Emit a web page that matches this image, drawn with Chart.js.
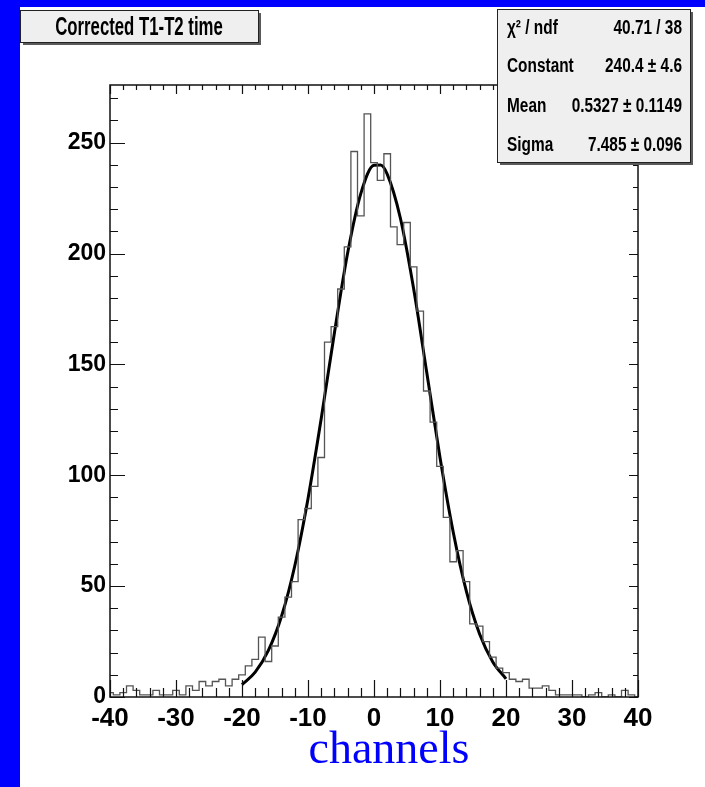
<!DOCTYPE html>
<html>
<head>
<meta charset="utf-8">
<title>Corrected T1-T2 time</title>
<script src="https://cdn.jsdelivr.net/npm/chart.js@4.4.1/dist/chart.umd.min.js"></script>
<style>
  html, body { margin: 0; padding: 0; background: #ffffff; }
  canvas { display: block; }
</style>
</head>
<body>
<canvas id="hist" width="705" height="787"></canvas>
<script>
// bin centres (1 channel wide) and entries
const binCenters = [
  -40, -39, -38, -37, -36, -35, -34, -33, -32, -31,
  -30, -29, -28, -27, -26, -25, -24, -23, -22, -21,
  -20, -19, -18, -17, -16, -15, -14, -13, -12, -11,
  -10, -9, -8, -7, -6, -5, -4, -3, -2, -1,
  0, 1, 2, 3, 4, 5, 6, 7, 8, 9,
  10, 11, 12, 13, 14, 15, 16, 17, 18, 19,
  20, 21, 22, 23, 24, 25, 26, 27, 28, 29,
  30, 31, 32, 33, 34, 35, 36, 37, 38, 39,
  40
];
const counts = [
  2, 1, 2, 5, 3, 1, 1, 3, 1, 1,
  3, 1, 5, 3, 7, 5, 7, 8, 5, 8,
  10, 14, 17, 27, 16, 23, 36, 45, 52, 80,
  85, 95, 108, 160, 167, 184, 203, 246, 217, 263,
  241, 233, 245, 212, 204, 214, 194, 174, 138, 124,
  104, 81, 61, 66, 52, 33, 32, 25, 18, 13,
  11, 8, 7, 8, 4, 4, 5, 3, 1, 1,
  1, 1, 0, 1, 2, 0, 1, 0, 3, 1,
  0
];

// gaussian fit curve
const fitX = [-20, -18, -16, -14, -12, -10, -8, -6, -4, -2, 0, 1, 2, 4, 6, 8, 10, 12, 14, 16, 18, 20];
const fitY = [5.6, 11.2, 21.0, 36.5, 59.2, 89.4, 125.5, 164.2, 200.1, 227.0, 239.8, 239.9, 235.8, 215.9, 184.2, 146.2, 108.0, 74.4, 47.6, 28.4, 15.8, 8.2];

const xTicks = [-40, -30, -20, -10, 0, 10, 20, 30, 40];
const yTicks = [0, 50, 100, 150, 200, 250];

const titleText = 'Corrected T1-T2 time';
const xTitle = 'channels';
const statLabels = ['\u03c7\u00b2 / ndf', 'Constant', 'Mean', 'Sigma'];
const statValues = ['40.71 / 38', '240.4 \u00b1 4.6', '0.5327 \u00b1 0.1149', '7.485 \u00b1 0.096'];

const FONT = 'Liberation Sans';

// histogram outline: each bin value held from its left edge to the next one
const histPoints = binCenters.map((c, i) => ({ x: c - 0.5, y: counts[i] }));
histPoints.push({ x: binCenters[binCenters.length - 1] + 0.5, y: counts[counts.length - 1] });
const fitPoints = fitX.map((v, i) => ({ x: v, y: fitY[i] }));

function squeezedText(ctx, text, x, y, sx, align) {
    ctx.save();
    ctx.translate(x, y);
    ctx.scale(sx, 1);
    ctx.textAlign = align;
    ctx.fillText(text, 0, 0);
    ctx.restore();
}

function paveBox(ctx, x, y, w, h) {
    ctx.fillStyle = '#5a5a5a';
    ctx.fillRect(x + 3, y + 3, w, h);
    ctx.fillStyle = '#efefef';
    ctx.fillRect(x, y, w, h);
    ctx.strokeStyle = '#222';
    ctx.lineWidth = 1;
    ctx.strokeRect(x + 0.5, y + 0.5, w, h);
}

const rootDecor = {
    id: 'rootDecor',
    beforeDraw(chart) {
        const ctx = chart.ctx;
        ctx.save();
        ctx.fillStyle = '#0000ff';
        ctx.fillRect(0, 0, chart.width, chart.height);
        ctx.fillStyle = '#ffffff';
        ctx.fillRect(20, 7, chart.width - 20, chart.height - 7);
        ctx.restore();
    },
    afterDraw(chart) {
        const { ctx, chartArea: a, scales: { x, y } } = chart;
        ctx.save();

        // frame and inward ticks on all four sides
        ctx.strokeStyle = '#111';
        ctx.lineWidth = 1.5;
        ctx.strokeRect(a.left, a.top, a.right - a.left, a.bottom - a.top);
        ctx.lineWidth = 1.2;
        ctx.beginPath();
        for (let v = -40; v <= 40; v += 2) {
            const px = Math.round(x.getPixelForValue(v)) + 0.5;
            const major = v % 10 === 0;
            ctx.moveTo(px, a.bottom);
            ctx.lineTo(px, a.bottom - (major ? 17 : 9));
            ctx.moveTo(px, a.top);
            ctx.lineTo(px, a.top + (major ? 9 : 5));
        }
        for (let v = 0; v <= 270; v += 10) {
            const py = Math.round(y.getPixelForValue(v)) + 0.5;
            const major = v % 50 === 0;
            ctx.moveTo(a.left, py);
            ctx.lineTo(a.left + (major ? 15 : 8), py);
            ctx.moveTo(a.right, py);
            ctx.lineTo(a.right - (major ? 9 : 5), py);
        }
        ctx.stroke();

        // title pave
        paveBox(ctx, 20, 10, 238, 32);
        ctx.fillStyle = '#000';
        ctx.font = `bold 25px "${FONT}"`;
        ctx.textBaseline = 'middle';
        squeezedText(ctx, titleText, 139, 28, 0.67, 'center');

        // fit statistics box
        paveBox(ctx, 497, 9, 193, 153);
        ctx.fillStyle = '#000';
        ctx.font = `bold 20px "${FONT}"`;
        const rowY = [28, 66, 106, 145];
        statLabels.forEach((t, i) => squeezedText(ctx, t, 507, rowY[i], 0.77, 'left'));
        statValues.forEach((t, i) => squeezedText(ctx, t, 682, rowY[i], 0.77, 'right'));

        // axis title
        ctx.fillStyle = '#0000ff';
        ctx.font = '46px "Liberation Serif"';
        ctx.textAlign = 'center';
        ctx.textBaseline = 'alphabetic';
        ctx.fillText(xTitle, 389, 763);

        ctx.restore();
    }
};

new Chart(document.getElementById('hist'), {
    type: 'line',
    data: {
        datasets: [{
            label: 'histogram',
            data: histPoints,
            stepped: true,
            borderColor: '#555555',
            borderWidth: 1.3,
            pointRadius: 0,
            fill: false
        }, {
            label: 'gaus fit',
            data: fitPoints,
            borderColor: '#000000',
            borderWidth: 3,
            cubicInterpolationMode: 'monotone',
            pointRadius: 0,
            fill: false
        }]
    },
    options: {
        responsive: false,
        animation: false,
        devicePixelRatio: 1,
        events: [],
        layout: { padding: { left: 20, top: 85, right: 67, bottom: 0 } },
        plugins: {
            legend: { display: false },
            tooltip: { enabled: false }
        },
        scales: {
            x: {
                type: 'linear',
                min: -40,
                max: 40,
                afterBuildTicks: s => { s.ticks = xTicks.map(v => ({ value: v })); },
                afterFit: s => { s.height = 90; s.paddingLeft = 0; s.paddingRight = 0; },
                grid: { display: false, drawTicks: false },
                border: { display: false },
                ticks: {
                    color: '#000',
                    font: { family: FONT, weight: 'bold', size: 26 },
                    padding: 6,
                    maxRotation: 0,
                    autoSkip: false,
                    callback: v => String(v)
                }
            },
            y: {
                type: 'linear',
                min: 0,
                max: 276,
                afterBuildTicks: s => { s.ticks = yTicks.map(v => ({ value: v })); },
                afterFit: s => { s.width = 90; s.paddingTop = 0; s.paddingBottom = 0; },
                grid: { display: false, drawTicks: false },
                border: { display: false },
                ticks: {
                    color: '#000',
                    font: { family: FONT, weight: 'bold', size: 23 },
                    padding: 4,
                    callback: v => String(v)
                }
            }
        }
    },
    plugins: [rootDecor]
});
</script>
</body>
</html>
